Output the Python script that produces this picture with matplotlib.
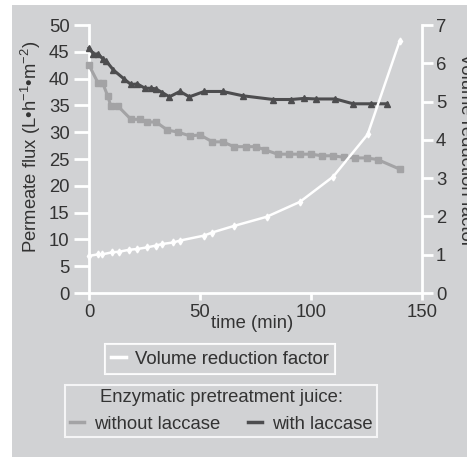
import matplotlib
matplotlib.use("Agg")
import matplotlib.pyplot as plt
from matplotlib.patches import Rectangle
from matplotlib.lines import Line2D

plt.rcParams['font.family'] = ['Liberation Sans', 'DejaVu Sans']
plt.rcParams['mathtext.fontset'] = 'custom'
plt.rcParams['mathtext.rm'] = 'Liberation Sans'
plt.rcParams['mathtext.it'] = 'Liberation Sans'

# ---- data ----
t_with = [0, 2, 4, 6.5, 7.7, 11, 15.9, 18.9, 21.8, 25.2, 27.8, 30, 33, 36.2, 41, 45.2,
          51.9, 60.2, 69.2, 83, 91, 96.8, 102.2, 111, 119, 127, 134.4]
flux_with = [45.7, 44.6, 44.6, 43.6, 43.3, 41.6, 39.9, 38.9, 39.0, 38.2, 38.2, 38.1, 37.4,
             36.6, 37.6, 36.6, 37.6, 37.6, 36.8, 36.1, 36.1, 36.3, 36.2, 36.2, 35.3, 35.3, 35.3]

t_without = [0, 4.2, 6.2, 8.4, 9.9, 13.2, 18.9, 23, 26.3, 30.2, 35.3, 40.2, 45.5, 50, 55.6,
             60.2, 65.3, 70.6, 75.2, 79.3, 85, 90, 95, 100, 105, 110, 115, 120, 125, 130, 140]
flux_without = [42.5, 39.1, 39.1, 36.8, 34.8, 34.8, 32.4, 32.4, 31.9, 31.9, 30.4, 30.0, 29.3,
                29.5, 28.2, 28.2, 27.3, 27.3, 27.3, 26.7, 25.9, 25.9, 25.9, 25.9, 25.6, 25.6,
                25.3, 25.2, 25.2, 24.9, 23.1]

t_vrf = [0, 4.2, 6, 10.2, 13.7, 18.2, 21.8, 26, 30.2, 33, 38, 41, 51.9, 55.5, 65.2, 80,
         95, 110, 125.5, 140]
vrf = [0.97, 1.01, 1.01, 1.06, 1.08, 1.13, 1.15, 1.19, 1.24, 1.28, 1.32, 1.37, 1.50, 1.58,
       1.75, 1.99, 2.38, 3.04, 4.14, 6.59]

x_ticks = [0, 50, 100, 150]
left_ticks = [0, 5, 10, 15, 20, 25, 30, 35, 40, 45, 50]
right_ticks = [0, 1, 2, 3, 4, 5, 6, 7]

BG = '#d1d2d4'
TXT = '#333333'
DARK = '#4d4d4f'
LIGHT = '#a3a3a5'
FS = 13.3

W, H = 467, 457
fig = plt.figure(figsize=(W / 100, H / 100), dpi=100, facecolor='white')
fig.patches.append(Rectangle((12 / W, 0), 1 - 12 / W, 1 - 5 / H, transform=fig.transFigure,
                             facecolor=BG, edgecolor='none', zorder=-10))

ax = fig.add_axes([89 / W, 1 - 293 / H, (422 - 89) / W, (293 - 25) / H])
ax.set_facecolor('none')
ax2 = ax.twinx()
ax2.set_facecolor('none')

l_without, = ax.plot(t_without, flux_without, color=LIGHT, lw=2.2, marker='s', ms=5,
                     mec=LIGHT, mfc=LIGHT, zorder=3, clip_on=False)
l_with, = ax.plot(t_with, flux_with, color=DARK, lw=2.2, marker='^', ms=5,
                  mec=DARK, mfc=DARK, zorder=3, clip_on=False)
l_vrf, = ax2.plot(t_vrf, vrf, color='white', lw=1.8, marker='d', ms=3.5,
                  mec='white', mfc='white', zorder=4, clip_on=False)

ax.set_xlim(0, 150)
ax.set_ylim(0, 50)
ax2.set_ylim(0, 7)
ax.set_xticks(x_ticks)
ax.set_yticks(left_ticks)
ax2.set_yticks(right_ticks)

for a in (ax, ax2):
    for s in a.spines.values():
        s.set_visible(False)
ax.spines['left'].set_visible(True)
ax.spines['bottom'].set_visible(True)
ax2.spines['right'].set_visible(True)
for s in (ax.spines['left'], ax.spines['bottom'], ax2.spines['right']):
    s.set_color('white')
    s.set_linewidth(2)

ax.tick_params(axis='y', direction='out', length=11, width=2, color='white',
               labelsize=FS, labelcolor=TXT, pad=3)
ax.tick_params(axis='x', direction='out', length=5, width=2, color='white',
               labelsize=FS, labelcolor=TXT, pad=3)
ax2.tick_params(axis='y', direction='out', length=8, width=2, color='white',
                labelsize=FS, labelcolor=TXT, pad=2)

fig.text(252 / W, 1 - 323 / H, 'time (min)', ha='center', va='center', fontsize=FS, color=TXT)
fig.text(31 / W, 1 - 147 / H,
         'Permeate flux (L•h$^{\\mathregular{-1}}$•m$^{\\mathregular{-2}}$)',
         rotation=90, ha='center', va='center', fontsize=FS, color=TXT)
fig.text(457 / W, 1 - 150 / H, 'Volume reduction factor', rotation=270,
         ha='left', va='center', fontsize=FS, color=TXT)

h_vrf = Line2D([], [], color='white', lw=2.5)
leg1 = fig.legend([h_vrf], ['Volume reduction factor'], loc='center',
                  bbox_to_anchor=(220 / W, 1 - 359 / H), frameon=True, fancybox=False,
                  facecolor=BG, edgecolor='white', fontsize=FS, handlelength=0.8,
                  handletextpad=0.5, borderpad=0.35, labelcolor=TXT)
leg1.get_frame().set_linewidth(1.5)

h_wo = Line2D([], [], color=LIGHT, lw=2.5)
h_w = Line2D([], [], color=DARK, lw=2.5)
leg2 = fig.legend([h_wo, h_w], ['without laccase', 'with laccase'], loc='center',
                  bbox_to_anchor=(221 / W, 1 - 411 / H), ncol=2, frameon=True, fancybox=False,
                  facecolor=BG, edgecolor='white', fontsize=FS, handlelength=0.8,
                  handletextpad=0.5, columnspacing=1.5, borderpad=0.25, labelcolor=TXT,
                  title='Enzymatic pretreatment juice:', title_fontsize=FS)
leg2.get_title().set_color(TXT)
leg2.get_frame().set_linewidth(1.5)
fig.add_artist(leg1)

fig.savefig('out.png', dpi=100, facecolor='white')
